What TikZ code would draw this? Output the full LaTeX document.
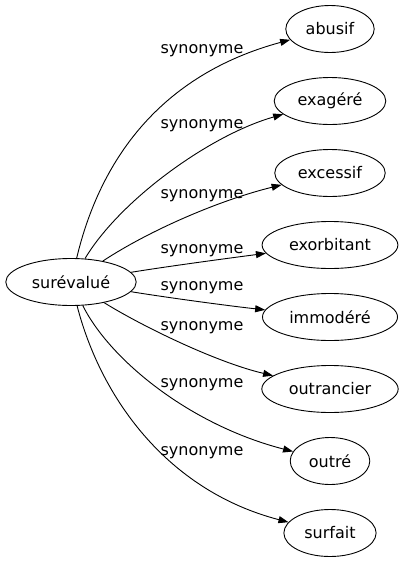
\documentclass[tikz,border=0pt]{standalone}
\usepackage{fontspec}
\setmainfont{DejaVu Sans}
\usetikzlibrary{arrows.meta,shapes.geometric}

\tikzset{
  word/.style={ellipse, draw, inner xsep=7pt, inner ysep=0pt, minimum height=47pt},
  syn/.style={-{Triangle[length=10pt,width=7pt]}},
  rel/.style={anchor=base, inner sep=0pt}
}

\begin{document}
\begin{tikzpicture}[x=1pt, y=-1pt, line width=0.9pt, font=\fontsize{16}{19}\selectfont]
    \useasboundingbox (0,0) rectangle (404,563);
    \node[word] (surevalue) at (71,282) {surévalué};
    \node[word] (abusif) at (330,29) {abusif};
    \node[word] (exagere) at (330,101) {exagéré};
    \node[word] (excessif) at (330,173) {excessif};
    \node[word] (exorbitant) at (330,245) {exorbitant};
    \node[word] (immodere) at (330,317) {immodéré};
    \node[word] (outrancier) at (330,389) {outrancier};
    \node[word] (outre) at (330,461) {outré};
    \node[word] (surfait) at (330,533) {surfait};
    % edge labels
    \node[rel] (s1) at (202,53) {synonyme};
    \node[rel] (s2) at (202,128) {synonyme};
    \node[rel] (s3) at (202,198) {synonyme};
    \node[rel] (s4) at (202,253) {synonyme};
    \node[rel] (s5) at (202,290) {synonyme};
    \node[rel] (s6) at (202,330) {synonyme};
    \node[rel] (s7) at (202,387) {synonyme};
    \node[rel] (s8) at (202,455) {synonyme};
    % edges
    \draw[syn] (surevalue) .. controls (100,160) and (160,75) .. (abusif);
    \draw[syn] (surevalue) .. controls (120,200) and (210,135) .. (exagere);
    \draw[syn] (surevalue) .. controls (150,230) and (220,200) .. (excessif);
    \draw[syn] (surevalue) .. controls (170,266) and (230,258) .. (exorbitant);
    \draw[syn] (surevalue) .. controls (170,298) and (230,306) .. (immodere);
    \draw[syn] (surevalue) .. controls (140,325) and (215,362) .. (outrancier);
    \draw[syn] (surevalue) .. controls (110,360) and (190,425) .. (outre);
    \draw[syn] (surevalue) .. controls (100,395) and (165,490) .. (surfait);
\end{tikzpicture}
\end{document}
